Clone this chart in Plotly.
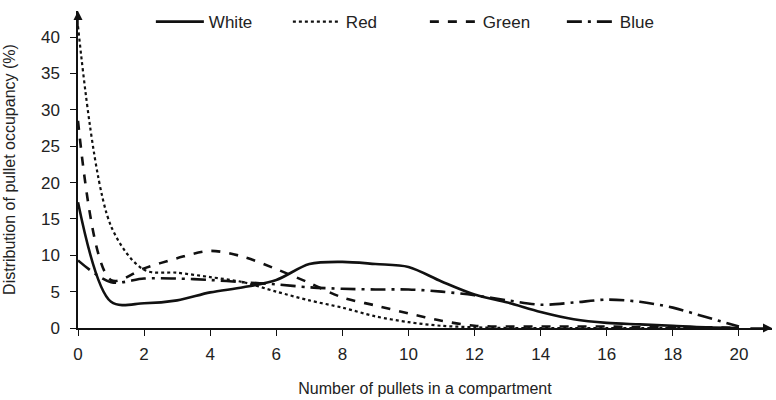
import plotly.graph_objects as go

# pullets per compartment
pullets = list(range(0, 21))

white = [17.3, 3.6, 3.4, 3.8, 4.9, 5.6, 6.6, 8.8, 9.1, 8.8, 8.4, 6.4, 4.6, 3.5, 2.2, 1.2, 0.7, 0.5, 0.3, 0.1, 0.0]
red = [41.5, 14.0, 8.0, 7.6, 7.0, 6.3, 5.0, 3.8, 2.8, 1.6, 0.8, 0.3, 0.1, 0.0, 0.0, 0.0, 0.0, 0.0, 0.0, 0.0, 0.0]
green = [28.5, 6.6, 8.2, 9.6, 10.6, 9.8, 8.1, 6.2, 4.2, 3.1, 2.0, 1.0, 0.3, 0.2, 0.2, 0.2, 0.2, 0.1, 0.1, 0.1, 0.0]
blue = [9.3, 6.3, 6.8, 6.8, 6.6, 6.3, 6.0, 5.6, 5.4, 5.3, 5.3, 5.0, 4.5, 3.8, 3.2, 3.5, 3.9, 3.6, 2.8, 1.5, 0.2]

series = [("White", white, "solid", 2.6),
          ("Red", red, "dot", 2.2),
          ("Green", green, "dash", 2.6),
          ("Blue", blue, "longdashdot", 2.6)]

ink = "#111111"

fig = go.Figure()
for name, vals, dash, w in series:
    fig.add_trace(go.Scatter(
        x=pullets, y=vals, name=name, mode="lines",
        line=dict(color=ink, dash=dash, width=w, shape="spline", smoothing=0.9),
    ))

fig.update_layout(
    width=776, height=400,
    margin=dict(l=78, r=4, t=5, b=72),
    plot_bgcolor="white", paper_bgcolor="white",
    font=dict(family="Arial, Liberation Sans, sans-serif", size=17, color="#222222"),
    legend=dict(orientation="h", x=0.105, xanchor="left", y=1.022, yanchor="top",
                font=dict(size=17), itemwidth=48, entrywidth=74, entrywidthmode="pixels",
                bgcolor="rgba(0,0,0,0)"),
    showlegend=True,
)

fig.update_xaxes(
    range=[0, 21], tickvals=list(range(0, 21, 2)), automargin=False,
    showline=True, linecolor=ink, linewidth=1.5,
    ticks="outside", ticklen=6, tickcolor=ink, ticklabelstandoff=4,
    showgrid=False, zeroline=False,
    title=dict(text="Number of pullets in a compartment", font=dict(size=16), standoff=20),
)
fig.update_yaxes(
    range=[0, 43.6], tickvals=list(range(0, 41, 5)), automargin=False,
    showline=True, linecolor=ink, linewidth=1.5,
    ticks="outside", ticklen=6, tickcolor=ink, ticklabelstandoff=7,
    showgrid=False, zeroline=False,
    title=dict(text="Distribution of pullet occupancy (%)", font=dict(size=16), standoff=21),
)

# arrow heads at the axis ends
fig.add_annotation(x=21, y=0, ax=20.3, ay=0, xref="x", yref="y", axref="x", ayref="y",
                   showarrow=True, arrowhead=2, arrowsize=1.2, arrowwidth=1.5, arrowcolor=ink, text="")
fig.add_annotation(x=0, y=43.6, ax=0, ay=41, xref="x", yref="y", axref="x", ayref="y",
                   showarrow=True, arrowhead=2, arrowsize=1.2, arrowwidth=1.5, arrowcolor=ink, text="")

# drop the default page margin so the figure sits at the window's corner
fig.write_html("out.html", config={"displayModeBar": False},
               post_script="document.body.style.margin='0';")
